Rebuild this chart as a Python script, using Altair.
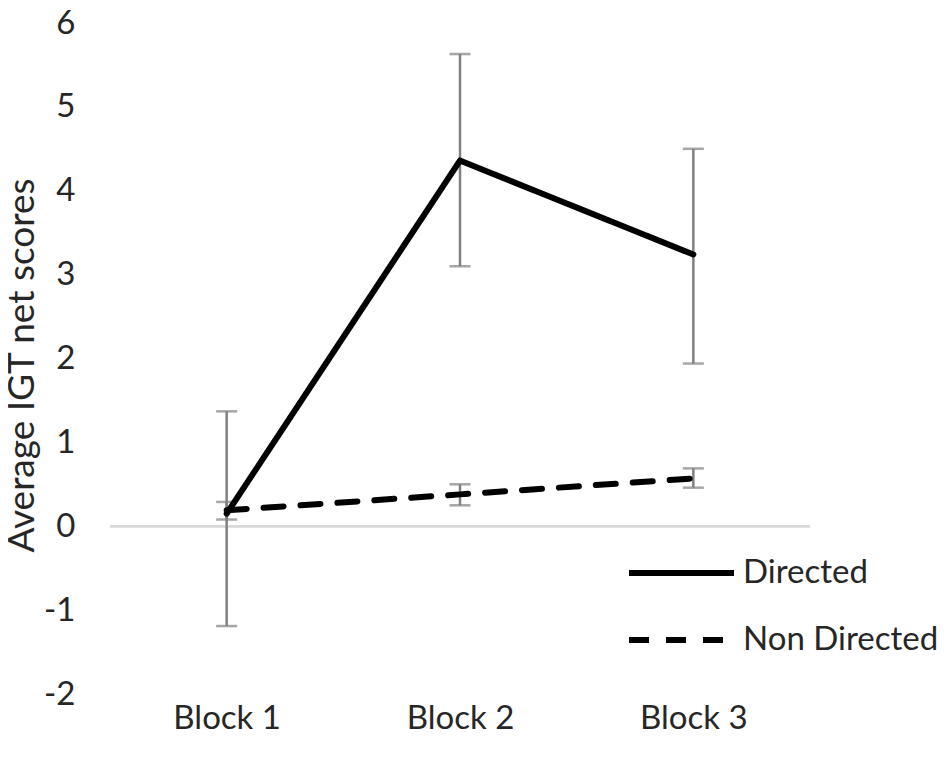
import altair as alt
import pandas as pd

blocks = ["Block 1", "Block 2", "Block 3"]
groups = ["Directed", "Non Directed"]
directed_mean = [0.15, 4.36, 3.24]
directed_lo = [-1.19, 3.10, 1.94]
directed_hi = [1.37, 5.63, 4.50]
nondir_mean = [0.19, 0.38, 0.57]
nondir_lo = [0.08, 0.25, 0.46]
nondir_hi = [0.29, 0.50, 0.69]
y_ticks = [-2, -1, 0, 1, 2, 3, 4, 5, 6]

rows = []
for i, b in enumerate(blocks):
    rows.append({"block": b, "group": groups[0], "mean": directed_mean[i],
                 "lo": directed_lo[i], "hi": directed_hi[i]})
for i, b in enumerate(blocks):
    rows.append({"block": b, "group": groups[1], "mean": nondir_mean[i],
                 "lo": nondir_lo[i], "hi": nondir_hi[i]})
df = pd.DataFrame(rows)

FONT = "Lato"
TXT = "#262626"

xenc = alt.X("block:N", sort=blocks, scale=alt.Scale(type="point", padding=0.5),
             axis=alt.Axis(title=None, domain=False, ticks=False, grid=False,
                           labelFontSize=33, labelFont=FONT, labelColor=TXT,
                           labelPadding=8, labelAngle=0))
yscale = alt.Scale(domain=[-2, 6], nice=False, zero=False)
yaxis = alt.Axis(title="Average IGT net scores", values=y_ticks, domain=False,
                 ticks=False, grid=False, labelFontSize=33, labelFont=FONT,
                 labelColor=TXT, labelPadding=35,
                 labelExpr="replace(datum.label, '\u2212', '-')",
                 titleFont=FONT,
                 titleFontSize=37, titleFontWeight="normal", titleColor=TXT,
                 titleAngle=270, titleX=-77, titleY=342, titleAlign="center",
                 titleBaseline="alphabetic")

base = alt.Chart(df)

zero = base.mark_rule(color="#d9d9d9", strokeWidth=2).encode(
    y=alt.datum(0, scale=yscale, axis=yaxis)
)

err = base.mark_rule(color="#808080", strokeWidth=2.5).encode(
    x=xenc,
    y=alt.Y("lo:Q", scale=yscale, axis=yaxis),
    y2="hi:Q",
)
cap_lo = base.mark_tick(color="#808080", thickness=2.5, size=21, orient="horizontal").encode(
    x=xenc, y=alt.Y("lo:Q", scale=yscale, axis=yaxis))
cap_hi = base.mark_tick(color="#808080", thickness=2.5, size=21, orient="horizontal").encode(
    x=xenc, y=alt.Y("hi:Q", scale=yscale, axis=yaxis))

lines = base.mark_line(color="black", strokeWidth=6, strokeCap="round",
                       strokeJoin="round").encode(
    x=xenc,
    y=alt.Y("mean:Q", scale=yscale, axis=yaxis),
    strokeDash=alt.StrokeDash(
        "group:N",
        scale=alt.Scale(domain=groups, range=[[1, 0], [20, 17]]),
        legend=alt.Legend(title=None, orient="none", legendX=516, legendY=530,
                          symbolType="stroke", symbolSize=11025,
                          symbolStrokeWidth=6, symbolStrokeColor="black",
                          labelFontSize=33, labelFont=FONT, labelColor=TXT,
                          labelOffset=6, labelLimit=400, clipHeight=40,
                          rowPadding=27, padding=0),
    ),
    detail="group:N",
)

chart = alt.layer(zero, err, cap_lo, cap_hi, lines).properties(
    width=700, height=671,
    autosize=alt.AutoSizeParams(type="none"),
    padding={"left": 102, "top": 15, "right": 127, "bottom": 50},
).configure_view(stroke=None)

chart.save("out.html", embed_options={"renderer": "svg", "actions": False})
